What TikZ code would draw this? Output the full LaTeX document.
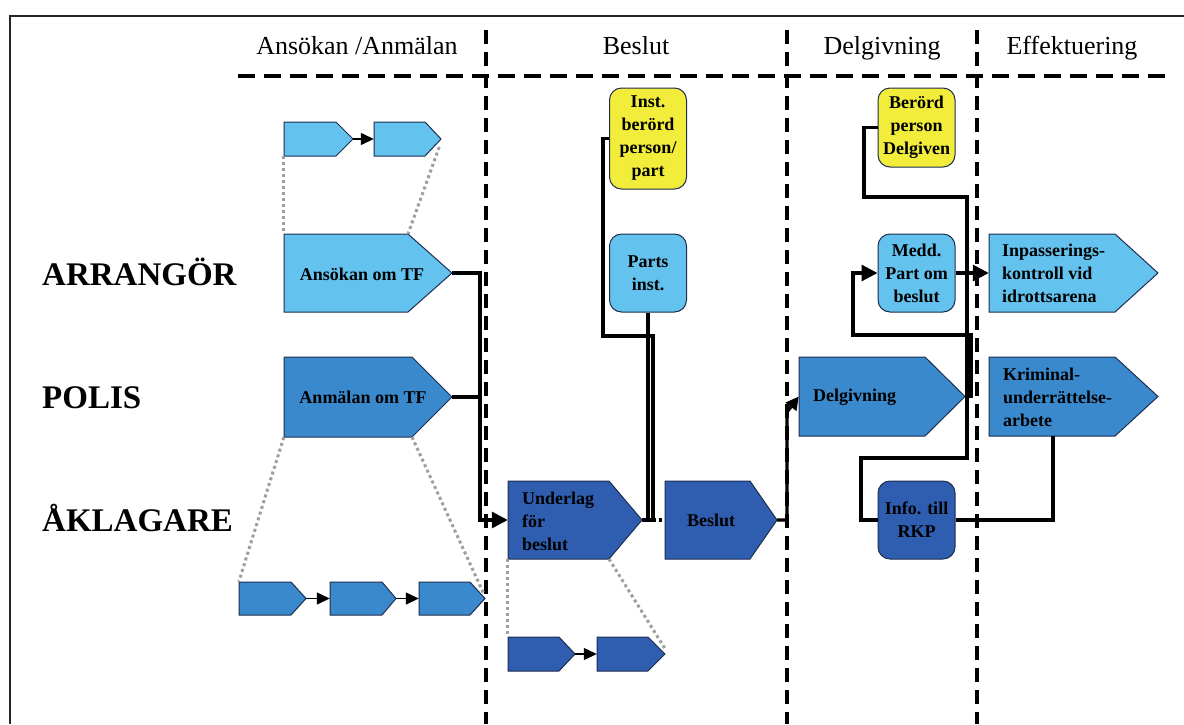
\documentclass[tikz,border=0pt]{standalone}
\usepackage{fontspec}
\setmainfont{Liberation Serif}
\usetikzlibrary{arrows.meta,calc,fit}
\definecolor{lblue}{RGB}{99,194,238}
\definecolor{mblue}{RGB}{58,137,205}
\definecolor{dblue}{RGB}{47,94,176}
\definecolor{ylw}{RGB}{242,236,58}
\definecolor{edgec}{RGB}{30,45,80}
\newcommand\pentbox[7]{%
  \draw[shapeline,fill=#2] (#3,#4) -- ({#5-#7},#4) -- (#5,{(#4+#6)/2}) -- ({#5-#7},#6) -- (#3,#6) -- cycle;
  \coordinate (#1-a) at (#3,#4);
  \coordinate (#1-b) at (#5,#6);
  \coordinate (#1-c) at ({#5-#7},#6);
  \coordinate (#1-d) at ({#5-#7},#4);
  \node[fit=(#1-a)(#1-b),inner sep=0pt] (#1) {};
}
\begin{document}
\begin{tikzpicture}[x=1pt,y=-1pt,
  shapeline/.style={draw=edgec,line width=1pt},
  conn/.style={line width=3.2pt,black},
  tip/.style={-{Triangle[length=16pt,width=16pt]}},
  smalltip/.style={-{Triangle[length=13pt,width=12pt]}},
  guide/.style={draw=gray!75,line width=3pt,dash pattern=on 3pt off 3pt},
  sepv/.style={line width=3.4pt,dash pattern=on 14pt off 8pt},
  seph/.style={line width=3.4pt,dash pattern=on 17pt off 9pt},
  lbl/.style={font=\bfseries\fontsize{18}{23}\selectfont,text=black,inner sep=0pt,align=center},
  lbll/.style={lbl,align=left},
  rbox/.style={shapeline,rounded corners=12pt,minimum width=77pt,inner sep=0pt,align=center,font=\bfseries\fontsize{18}{23}\selectfont},
  head/.style={font=\fontsize{26}{30}\selectfont,anchor=base,inner sep=0pt},
  rowlbl/.style={font=\bfseries\fontsize{33}{36}\selectfont,anchor=base west,inner sep=0pt}]
\useasboundingbox (0,0) rectangle (1184,724);
\fill[white] (0,0) rectangle (1184,724);
% frame
\draw[line width=1.8pt,black!85] (10,724) -- (10,16) -- (1184,16);
% headers
\node[head] (h1) at (357,54) {Ansökan /Anmälan};
\node[head] (h2) at (636,54) {Beslut};
\node[head] (h3) at (882,54) {Delgivning};
\node[head] (h4) at (1072,54) {Effektuering};
% separators
\draw[seph] (238,76) -- (1170,76);
\draw[sepv] (486,30) -- (486,724);
\draw[sepv] (787,30) -- (787,724);
\draw[sepv] (977,30) -- (977,724);
% row labels
\node[rowlbl] (r1) at (42,285) {ARRANGÖR};
\node[rowlbl] (r2) at (42,408) {POLIS};
\node[rowlbl] (r3) at (42,531) {ÅKLAGARE};
% pentagon shapes
\pentbox{s1}{lblue}{284}{122}{353}{156}{17}
\pentbox{s2}{lblue}{374}{122}{441}{156}{16}
\pentbox{anso}{lblue}{284}{234}{452}{312}{44}
\pentbox{anm}{mblue}{284}{357}{452}{437}{40}
\pentbox{b1}{mblue}{239}{582}{306}{615}{15}
\pentbox{b2}{mblue}{330}{582}{396}{615}{14}
\pentbox{b3}{mblue}{419}{582}{485}{615}{15}
\pentbox{und}{dblue}{508}{481}{642}{559}{33}
\pentbox{besl}{dblue}{665}{481}{777}{559}{27}
\pentbox{l1}{dblue}{508}{637}{575}{671}{16}
\pentbox{l2}{dblue}{597}{637}{665}{671}{17}
\pentbox{delg}{mblue}{799}{357}{965}{436}{40}
\pentbox{inp}{lblue}{989}{234}{1158}{312}{43}
\pentbox{krim}{mblue}{989}{357}{1158}{436}{43}
% texts in pentagons
\node[lbl] (anso-t) at (362,274) {Ansökan om TF};
\node[lbl] (anm-t) at (363,397) {Anmälan om TF};
\node[lbll,anchor=west] (und-t) at (522,521) {Underlag\\för\\beslut};
\node[lbl] (besl-t) at (711,520) {Beslut};
\node[lbl,anchor=west] (delg-t) at (813,397) {Delgivning};
\node[lbll,anchor=west] (inp-t) at (1002,273) {Inpasserings-\\kontroll vid\\idrottsarena};
\node[lbll,anchor=west] (krim-t) at (1003,397) {Kriminal-\\underrättelse-\\arbete};
% rounded boxes
\node[rbox,fill=ylw,minimum height=101pt] (inst) at (648,138.5) {Inst.\\berörd\\person/\\part};
\node[rbox,fill=lblue,minimum height=78pt] (parts) at (648,273) {Parts\\inst.};
\node[rbox,fill=ylw,minimum height=79pt] (berord) at (916.5,127.5) {Berörd\\person\\Delgiven};
\node[rbox,fill=lblue,minimum height=78pt] (medd) at (916.5,273) {Medd.\\Part om\\beslut};
\node[rbox,fill=dblue,minimum height=78pt] (info) at (916.5,520) {Info. till\\RKP};
% small arrows
\draw[line width=1.3pt,smalltip] (s1.east) -- (s2.west);
\draw[line width=1.3pt,smalltip] (b1.east) -- (b2.west);
\draw[line width=1.3pt,smalltip] (b2.east) -- (b3.west);
\draw[line width=1.3pt,smalltip] (l1.east) -- (l2.west);
% dotted guides
\draw[guide] (s1.south west) -- (anso.north west);
\draw[guide] ($(s2.east)+(-2,8)$) -- (anso-d);
\draw[guide] (anm.south west) -- (b1.north west);
\draw[guide] (anm-c) -- ($(b3.east)+(-2,-6)$);
\draw[guide] (und.south west) -- (l1.north west);
\draw[guide] (und-c) -- ($(l2.east)+(0,-5)$);
% connectors
\coordinate (jx) at (480,273);
\draw[conn,tip] (anso.east) -- (jx) |- (und.west);
\draw[conn] (anm.east) -- (anm.east -| jx);
\coordinate (ka) at (603,336);
\coordinate (kb) at (653,336);
\draw[conn] (inst.west) -| (ka) -- (kb) -- (kb |- und.east);
\draw[conn] (parts.south) -- (parts.south |- und.east);
\draw[conn] (und.east) -- (kb |- und.east);
\draw[conn,dash pattern=on 3pt off 3pt] (kb |- und.east) -- (besl.west);
\coordinate (jb1) at (787,520);
\coordinate (jb2) at (787,412);
\draw[conn,-{Triangle[length=13pt,width=13pt]}] (besl.east) -- (jb1) -- (jb2) -- (delg.west);
\coordinate (c1) at (864,197);
\coordinate (c2) at (967,197);
\draw[conn] (berord.west) -| (c1) -- (c2) |- (delg.east);
\coordinate (c3) at (971,335);
\coordinate (c4) at (853,335);
\draw[conn,tip] (delg.east) -| (c3) -- (c4) |- (medd.west);
\coordinate (c5) at (967,458);
\coordinate (c6) at (861,458);
\draw[conn] (delg.east) -| (c5) -- (c6) |- (info.west);
\draw[conn,tip] (medd.east) -- (inp.west);
\coordinate (c7) at (1053,436);
\draw[conn] (info.east) -| (c7);
\end{tikzpicture}
\end{document}
